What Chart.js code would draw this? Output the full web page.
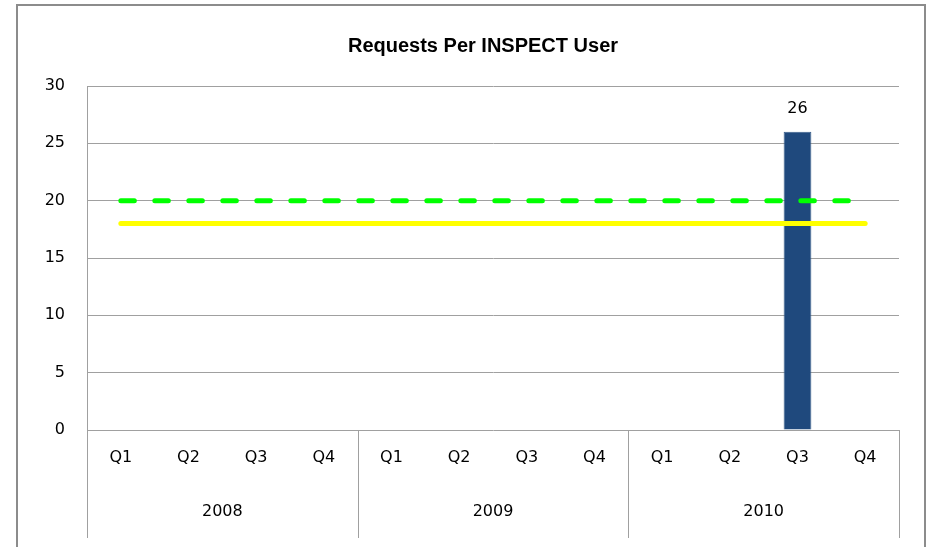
<!DOCTYPE html>
<html>
<head>
<meta charset="utf-8">
<script src="https://cdn.jsdelivr.net/npm/chart.js@4.4.0/dist/chart.umd.min.js"></script>
<style>
  html, body { margin: 0; padding: 0; background: #ffffff; overflow: hidden; width: 932px; height: 547px; }
  #frame { position: absolute; left: 16px; top: 4px; width: 906px; height: 600px; border: 2px solid #8c8c8c; box-sizing: content-box; }
  #c { position: absolute; left: 0; top: 0; }
</style>
</head>
<body>
<div id="frame"></div>
<canvas id="c" width="932" height="547"></canvas>
<script>
// ---- Data ----
const quarterLabels = ['Q1','Q2','Q3','Q4','Q1','Q2','Q3','Q4','Q1','Q2','Q3','Q4'];
const yearLabels = ['2008', '2009', '2010'];
const requestsPerUser = [null, null, null, null, null, null, null, null, null, null, 26, null];
const targetLine = [20, 20, 20, 20, 20, 20, 20, 20, 20, 20, 20, 20];
const averageLine = [18, 18, 18, 18, 18, 18, 18, 18, 18, 18, 18, 18];
const yTicks = [0, 5, 10, 15, 20, 25, 30];
const chartTitle = 'Requests Per INSPECT User';

const FONT = "'DejaVu Sans', sans-serif";
const TITLE_FONT = "'Liberation Sans', Arial, sans-serif";
Chart.defaults.font.family = FONT;
Chart.defaults.color = '#000000';

const gridColor = '#a0a0a0';

const separatorPlugin = {
  id: 'separators',
  afterDraw(chart) {
    const x = chart.scales.x, x2 = chart.scales.x2;
    const ctx = chart.ctx;
    const half = (x.getPixelForValue(1) - x.getPixelForValue(0)) / 2;
    const bounds = [];
    for (let i = 0; i <= quarterLabels.length; i += 4) {
      bounds.push(i < quarterLabels.length ? x.getPixelForValue(i) - half : x.getPixelForValue(i - 1) + half);
    }
    ctx.save();
    ctx.strokeStyle = gridColor;
    ctx.lineWidth = 1;
    bounds.forEach(b => {
      const px = Math.round(b) + 0.5;
      ctx.beginPath();
      ctx.moveTo(px, chart.chartArea.bottom);
      ctx.lineTo(px, x2.bottom);
      ctx.stroke();
    });
    ctx.restore();
  }
};

const valueLabelPlugin = {
  id: 'valueLabels',
  afterDatasetsDraw(chart) {
    const ctx = chart.ctx;
    const meta = chart.getDatasetMeta(0);
    const ds = chart.data.datasets[0];
    ctx.save();
    ctx.font = "16px " + FONT;
    ctx.fillStyle = '#000000';
    ctx.textAlign = 'center';
    ctx.textBaseline = 'middle';
    meta.data.forEach((el, i) => {
      const v = ds.data[i];
      if (v === null || v === undefined) return;
      ctx.fillText(String(v), el.x, el.y - 23);
    });
    ctx.restore();
  }
};

new Chart(document.getElementById('c'), {
  type: 'bar',
  data: {
    labels: quarterLabels,
    datasets: [
      {
        type: 'bar',
        label: 'Requests',
        data: requestsPerUser,
        backgroundColor: '#1f497d',
        borderColor: '#385d8a',
        borderWidth: 1,
        barPercentage: 0.41,
        categoryPercentage: 1.0,
        order: 3
      },
      {
        type: 'line',
        label: 'Target',
        data: targetLine,
        borderColor: '#00ff00',
        borderWidth: 5,
        borderDash: [13.5, 20.5],
        borderCapStyle: 'round',
        pointRadius: 0,
        fill: false,
        tension: 0,
        order: 1
      },
      {
        type: 'line',
        label: 'Average',
        data: averageLine,
        borderColor: '#ffff00',
        borderWidth: 5,
        borderCapStyle: 'round',
        pointRadius: 0,
        fill: false,
        tension: 0,
        order: 2
      }
    ]
  },
  options: {
    responsive: false,
    animation: false,
    devicePixelRatio: 1,
    layout: { padding: { left: 34, right: 0, top: 0, bottom: 9 } },
    plugins: {
      legend: { display: false },
      tooltip: { enabled: false },
      title: {
        display: true,
        text: chartTitle,
        color: '#000000',
        font: { family: TITLE_FONT, size: 20, weight: 'bold', lineHeight: 1.2 },
        padding: { top: 34, bottom: 28 }
      }
    },
    scales: {
      y: {
        min: 0,
        max: 30,
        afterBuildTicks(scale) { scale.ticks = yTicks.map(v => ({ value: v })); },
        afterFit(scale) { scale.width = 53; },
        ticks: { padding: 22, font: { size: 16 }, color: '#000000' },
        grid: { color: gridColor, drawTicks: false, lineWidth: 1 },
        border: { display: true, color: gridColor, width: 1 }
      },
      yRight: {
        position: 'right',
        display: true,
        min: 0,
        max: 30,
        afterFit(scale) { scale.width = 33; },
        ticks: { display: false },
        grid: { display: false, drawTicks: false },
        border: { display: false }
      },
      x: {
        type: 'category',
        position: 'bottom',
        weight: 0,
        offset: true,
        afterFit(scale) { scale.height = 55; },
        ticks: { padding: 18, font: { size: 16 }, color: '#000000', maxRotation: 0, autoSkip: false },
        grid: { display: false, drawTicks: false },
        border: { display: false }
      },
      x2: {
        type: 'category',
        position: 'bottom',
        weight: 1,
        offset: true,
        labels: yearLabels,
        afterFit(scale) { scale.height = 53; },
        ticks: { padding: 17, font: { size: 16 }, color: '#000000', maxRotation: 0, autoSkip: false },
        grid: { display: false, drawTicks: false },
        border: { display: false }
      }
    }
  },
  plugins: [separatorPlugin, valueLabelPlugin]
});
</script>
</body>
</html>
